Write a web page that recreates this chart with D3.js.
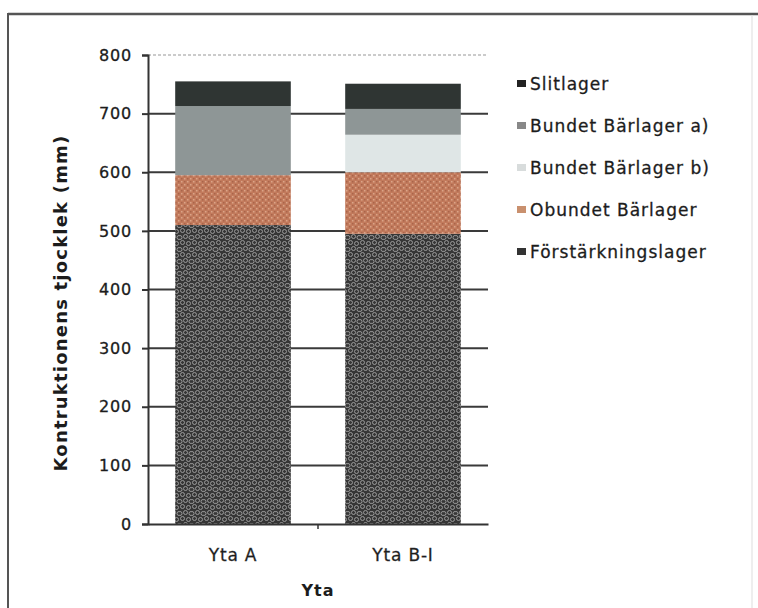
<!DOCTYPE html>
<html>
<head>
<meta charset="utf-8">
<script src="https://cdn.jsdelivr.net/npm/d3@7"></script>
<style>
  html, body { margin: 0; padding: 0; background: #fff; }
  svg { display: block; }
  text { font-family: "DejaVu Sans", Verdana, sans-serif; fill: #1c1c1c; }
</style>
</head>
<body>
<svg id="chart" width="758" height="608"></svg>
<script>
// Layer thickness (mm) per surface, stacked bottom to top
const categories = ["Yta A", "Yta B-I"];
const layerNames = ["Förstärkningslager", "Obundet Bärlager", "Bundet Bärlager b)", "Bundet Bärlager a)", "Slitlager"];
const forstarkningslager = [510, 495];
const obundetBarlager = [85, 105];
const bundetBarlagerB = [0, 64];
const bundetBarlagerA = [118, 44];
const slitlager = [42, 43];
const yTicks = [0, 100, 200, 300, 400, 500, 600, 700, 800];
const legendOrder = ["Slitlager", "Bundet Bärlager a)", "Bundet Bärlager b)", "Obundet Bärlager", "Förstärkningslager"];

const series = [forstarkningslager, obundetBarlager, bundetBarlagerB, bundetBarlagerA, slitlager];
const rows = categories.map((c, i) => {
  const r = { cat: c };
  layerNames.forEach((n, k) => r[n] = series[k][i]);
  return r;
});

const svg = d3.select("#chart");
const defs = svg.append("defs");

// gravel texture for the reinforcement layer
const gravel = defs.append("pattern").attr("id", "gravel")
  .attr("patternUnits", "userSpaceOnUse").attr("width", 12).attr("height", 12);
gravel.append("rect").attr("width", 12).attr("height", 12).attr("fill", "#363636");
[[2.5, 2.5], [8.5, 3.5], [5.5, 8.5], [11, 9.5], [0, 9.5]].forEach(([cx, cy]) =>
  gravel.append("circle").attr("cx", cx).attr("cy", cy).attr("r", 2)
    .attr("fill", "none").attr("stroke", "#a2a2a2").attr("stroke-width", 0.9));

// speckled texture for the unbound base layer
const speck = defs.append("pattern").attr("id", "speck")
  .attr("patternUnits", "userSpaceOnUse").attr("width", 6).attr("height", 6);
speck.append("rect").attr("width", 6).attr("height", 6).attr("fill", "#c27a5c");
[[1, 1], [4, 4]].forEach(([x, y]) =>
  speck.append("rect").attr("x", x).attr("y", y).attr("width", 1.5).attr("height", 1.5).attr("fill", "#dba488"));
[[4, 1], [1, 4]].forEach(([x, y]) =>
  speck.append("rect").attr("x", x).attr("y", y).attr("width", 1.5).attr("height", 1.5).attr("fill", "#a9644a"));

const fills = {
  "Förstärkningslager": "url(#gravel)",
  "Obundet Bärlager": "url(#speck)",
  "Bundet Bärlager b)": "#dfe6e6",
  "Bundet Bärlager a)": "#8e9696",
  "Slitlager": "#2f3533"
};
const legendFills = {
  "Förstärkningslager": "#333",
  "Obundet Bärlager": "#c9906e",
  "Bundet Bärlager b)": "#d8dcdc",
  "Bundet Bärlager a)": "#888",
  "Slitlager": "#222"
};

// frame
svg.append("line").attr("x1", 8).attr("x2", 758).attr("y1", 14).attr("y2", 14)
  .attr("stroke", "#555").attr("stroke-width", 2.5);
svg.append("line").attr("x1", 8).attr("x2", 8).attr("y1", 13).attr("y2", 608)
  .attr("stroke", "#555").attr("stroke-width", 2);
svg.append("line").attr("x1", 752).attr("x2", 752).attr("y1", 15).attr("y2", 608)
  .attr("stroke", "#ddd").attr("stroke-width", 1);

const plot = { left: 148, right: 488, top: 55, bottom: 524 };

const x = d3.scaleBand().domain(categories).range([plot.left, plot.right]).paddingInner(0.32).paddingOuter(0.16);
const y = d3.scaleLinear().domain([0, 800]).range([plot.bottom, plot.top]);

// gridlines
svg.append("g").selectAll("line").data(yTicks.filter(t => t > 0)).join("line")
  .attr("x1", plot.left).attr("x2", plot.right)
  .attr("y1", d => y(d)).attr("y2", d => y(d))
  .attr("stroke", d => d === 800 ? "#bbb" : "#3a3a3a")
  .attr("stroke-width", d => d === 800 ? 1.5 : 2)
  .attr("stroke-dasharray", d => d === 800 ? "3,2" : null);

// stacked bars
const stack = d3.stack().keys(layerNames)(rows);
svg.append("g").selectAll("g").data(stack).join("g")
  .attr("fill", d => fills[d.key])
  .selectAll("rect").data(d => d.filter(p => p[1] > p[0])).join("rect")
  .attr("x", d => x(d.data.cat))
  .attr("width", x.bandwidth())
  .attr("y", d => y(d[1]))
  .attr("height", d => y(d[0]) - y(d[1]));

// y axis
const yAxis = svg.append("g").attr("transform", `translate(${plot.left},0)`)
  .call(d3.axisLeft(y).tickValues(yTicks).tickSize(6).tickPadding(10));
yAxis.select(".domain").attr("stroke", "#333").attr("stroke-width", 2);
yAxis.selectAll(".tick line").attr("stroke", "#333").attr("stroke-width", 2);
yAxis.selectAll(".tick text").style("font-size", "16px").style("letter-spacing", "0.8px")
  .attr("fill", "#1c1c1c").attr("stroke", "#1c1c1c").attr("stroke-width", 0.3);

// x axis
const xAxis = svg.append("g").attr("transform", `translate(0,${plot.bottom})`)
  .call(d3.axisBottom(x).tickSize(0).tickPadding(25));
xAxis.select(".domain").attr("stroke", "#333").attr("stroke-width", 2);
xAxis.selectAll(".tick text").style("font-size", "17px").style("letter-spacing", "0.8px")
  .attr("fill", "#333").attr("stroke", "#333").attr("stroke-width", 0.3);
// category divider tick
svg.append("line")
  .attr("x1", (x("Yta A") + x.bandwidth() + x("Yta B-I")) / 2)
  .attr("x2", (x("Yta A") + x.bandwidth() + x("Yta B-I")) / 2)
  .attr("y1", plot.bottom).attr("y2", plot.bottom + 5)
  .attr("stroke", "#333").attr("stroke-width", 1.5);

// axis titles
svg.append("text").attr("transform", `translate(67,303) rotate(-90)`)
  .attr("text-anchor", "middle").style("font-size", "18px").style("font-weight", "bold")
  .style("letter-spacing", "1.2px")
  .text("Kontruktionens tjocklek (mm)");
svg.append("text").attr("x", 318).attr("y", 596)
  .attr("text-anchor", "middle").style("font-size", "16px").style("font-weight", "bold")
  .style("letter-spacing", "1px")
  .text("Yta");

// legend
const legend = svg.append("g").attr("transform", "translate(517,84)");
const li = legend.selectAll("g").data(legendOrder).join("g")
  .attr("transform", (d, i) => `translate(0,${i * 42})`);
li.append("rect").attr("x", 0).attr("y", -4).attr("width", 9).attr("height", 7)
  .attr("fill", d => legendFills[d]);
li.append("text").attr("x", 13).attr("y", 0).attr("dy", "0.35em")
  .style("font-size", "17px").style("letter-spacing", "1px")
  .attr("fill", "#1c1c1c").attr("stroke", "#1c1c1c").attr("stroke-width", 0.3).text(d => d);
</script>
</body>
</html>
